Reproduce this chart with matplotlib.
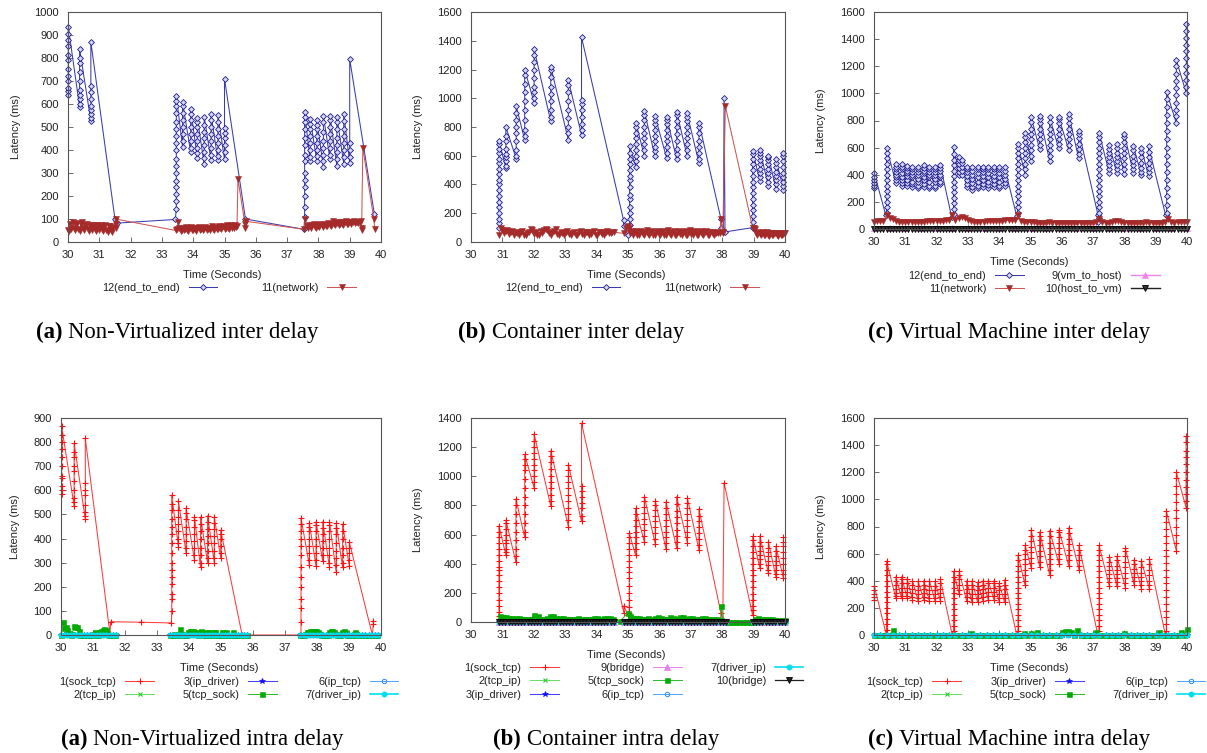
import numpy as np
import matplotlib
matplotlib.use("Agg")
import matplotlib.pyplot as plt
from matplotlib.offsetbox import TextArea, HPacker, AnchoredOffsetbox

plt.rcParams['font.family'] = ['Liberation Sans', 'DejaVu Sans']

# ---------------------------------------------------------------------------
# Data: latency samples (ms) against time (s).
# A piece (t, [v...]) is a burst of packets logged at one instant;
# a piece (t0, t1, [v...]) is a run of samples spread over [t0, t1].
# ---------------------------------------------------------------------------

# (a) Non-virtualized, inter delay
inter_native_e2e = [
    (30.01, [640, 655, 670, 700, 720, 750, 790, 815, 850, 880, 905, 935]),
    (30.37, [588, 600, 620, 640, 660, 700, 740, 780, 800, 840]),
    (30.73, [527, 540, 555, 575, 590, 620, 650, 680, 870]),
    (31.50, [100]),
    (31.55, [82]),
    (33.43, [98]),
    (33.46, [145, 180, 210, 240, 265, 300, 330, 360, 400, 430, 460, 490, 520, 560, 590, 615, 635]),
    (33.66, [415, 440, 470, 500, 530, 560, 590, 608]),
    (33.92, [390, 410, 440, 470, 500, 530, 555, 578]),
    (34.13, [365, 385, 410, 440, 470, 500, 520, 540]),
    (34.35, [340, 365, 390, 420, 450, 480, 510, 545]),
    (34.57, [355, 380, 410, 440, 470, 500, 530, 555]),
    (34.79, [355, 375, 400, 430, 460, 490, 520, 550]),
    (35.00, [360, 390, 420, 450, 475, 495, 710]),
    (35.67, [100]),
    (37.54, [55]),
    (37.56, [110, 150, 200, 240, 270, 300, 350, 380, 420, 450, 490, 520, 545, 565]),
    (37.74, [350, 370, 400, 430, 460, 490, 515, 535]),
    (37.95, [350, 375, 400, 430, 460, 490, 510, 530]),
    (38.16, [325, 350, 380, 410, 440, 480, 520, 548]),
    (38.37, [360, 380, 410, 440, 470, 500, 530, 548]),
    (38.59, [330, 360, 390, 420, 450, 490, 520, 545]),
    (38.81, [340, 370, 400, 430, 460, 490, 525, 555]),
    (39.00, [345, 370, 400, 430, 795]),
    (39.79, [120]),
]
inter_native_network = [
    (30.00, 31.45, [50, 48, 80, 55, 85, 60, 50, 75, 82, 55, 48, 78, 85, 60, 50, 72, 80, 55, 48, 75,
                    70, 50, 72, 55, 48, 75, 70, 50, 72, 55, 48, 70, 72, 50, 45, 70, 68, 50, 45, 65]),
    (31.52, [60, 80, 100]),
    (33.45, 35.40, [50, 55, 85, 60, 48, 52, 62, 50, 55, 65, 52, 48, 60, 66, 52, 50, 62, 55, 48, 60,
                    65, 52, 55, 62, 50, 58, 66, 52, 55, 63, 50, 60, 68, 55, 52, 65, 58, 55, 68, 60,
                    55, 66, 70, 58, 60, 72, 62, 58, 70, 75, 60, 62, 72, 65, 70]),
    (35.43, [275]),
    (35.65, [80]),
    (35.67, [62]),
    (35.69, [90]),
    (37.55, 39.35, [55, 100, 70, 62, 75, 68, 60, 72, 78, 65, 62, 75, 70, 65, 78, 72, 66, 75, 80, 68,
                    70, 82, 75, 70, 80, 92, 78, 72, 82, 88, 75, 78, 85, 80, 76, 86, 90, 80, 78, 88,
                    85, 80, 88, 90, 82, 85, 88, 84, 86, 90]),
    (39.38, [60, 50]),
    (39.42, [410]),
    (39.77, [100]),
    (39.80, [55]),
]

# (b) Container, inter delay
inter_container_e2e = [
    (30.89, [100, 130, 160, 200, 240, 280, 320, 360, 400, 430, 470, 510, 550, 580, 620, 650, 680, 705]),
    (31.11, [515, 530, 560, 590, 610, 650, 700, 740, 800]),
    (31.44, [580, 600, 640, 700, 760, 800, 850, 900, 945]),
    (31.71, [710, 740, 780, 850, 920, 980, 1040, 1100, 1160, 1200]),
    (32.01, [970, 1000, 1040, 1080, 1140, 1200, 1250, 1300, 1340]),
    (32.54, [840, 870, 920, 980, 1030, 1080, 1150, 1200, 1220]),
    (33.10, [710, 760, 800, 860, 920, 980, 1040, 1090, 1125]),
    (33.52, [745, 780, 820, 870, 920, 960, 985, 1425]),
    (34.86, [150, 110]),
    (35.00, [50]),
    (35.05, [80, 120, 160, 200, 240, 300, 330, 380, 430, 460, 500, 540, 580, 620, 670]),
    (35.25, [520, 560, 600, 640, 680, 720, 760, 800, 830]),
    (35.52, [600, 640, 680, 720, 760, 800, 850, 880, 910]),
    (35.86, [595, 630, 660, 700, 740, 780, 820, 850, 875]),
    (36.23, [585, 620, 660, 700, 740, 780, 820, 850, 870]),
    (36.55, [575, 610, 650, 700, 750, 800, 840, 880, 905]),
    (36.88, [600, 640, 680, 720, 760, 800, 840, 870, 895]),
    (37.26, [550, 580, 620, 660, 700, 760, 800, 830]),
    (37.96, [160, 100]),
    (38.04, [70]),
    (38.06, [1005]),
    (38.09, [70]),
    (38.97, [100, 140, 180, 220, 260, 300, 340, 380, 420, 460, 500, 540, 580, 610, 630]),
    (39.20, [425, 450, 480, 510, 540, 570, 600, 620, 640]),
    (39.47, [390, 420, 450, 480, 510, 540, 570, 590, 600]),
    (39.71, [370, 400, 430, 460, 490, 520, 550, 575]),
    (39.95, [365, 390, 420, 450, 480, 520, 560, 600, 620]),
]
inter_container_network = [
    (30.89, 34.55, [50, 95, 85, 60, 75, 80, 55, 70, 78, 50, 72, 60, 50, 68, 75, 52, 48, 65, 70, 90,
                    85, 55, 70, 50, 48, 75, 60, 80, 90, 82, 60, 50, 72, 78, 90, 55, 48, 70, 65, 50,
                    72, 78, 55, 48, 65, 72, 52, 50, 70, 75, 55, 48, 70, 72, 50, 55, 70, 75, 52, 48,
                    68, 72, 55, 50, 70, 75, 60, 65, 70, 68]),
    (34.87, [60]),
    (34.95, 37.92, [100, 110, 95, 60, 75, 50, 70, 78, 52, 48, 72, 75, 55, 50, 70, 80, 55, 48, 72, 75,
                    52, 50, 70, 78, 55, 48, 72, 76, 52, 50, 70, 80, 55, 48, 72, 75, 52, 50, 70, 78,
                    55, 48, 72, 75, 52, 50, 70, 80, 55, 48, 72, 75, 52, 50, 70, 78, 55, 48, 72, 75,
                    52, 50, 70, 72, 55, 48, 65, 70, 60, 65]),
    (37.96, [160]),
    (38.02, [70, 60]),
    (38.10, [945]),
    (38.97, [100]),
    (39.02, 40.00, [95, 90, 60, 50, 70, 55, 48, 65, 70, 50, 48, 62, 68, 50, 45, 60, 65, 50, 48, 62,
                    65, 50, 45, 60, 62, 50, 48, 58, 60, 65]),
]

# (c) Virtual machine, inter delay
inter_vm_e2e = [
    (30.01, [300, 320, 340, 360, 380, 410]),
    (30.38, [100]),
    (30.40, [120, 160, 200, 240, 280, 320, 360, 400, 440, 480, 520, 560, 600]),
    (30.70, [340, 360, 380, 400, 420, 440, 460, 480]),
    (30.88, [320, 340, 360, 380, 410, 440, 460, 480]),
    (31.06, [320, 340, 360, 390, 410, 430, 450, 465]),
    (31.23, [310, 330, 350, 380, 400, 420, 440, 455]),
    (31.41, [300, 320, 350, 370, 400, 420, 440, 460]),
    (31.59, [310, 330, 360, 380, 410, 430, 450, 470]),
    (31.77, [300, 320, 350, 380, 400, 420, 440, 460]),
    (31.95, [300, 320, 350, 370, 400, 420, 440, 455]),
    (32.12, [330, 350, 380, 400, 430, 450, 470]),
    (32.48, [90]),
    (32.54, [110, 150, 190, 230, 270, 310, 350, 390, 430, 470, 510, 550, 605]),
    (32.70, [400, 420, 450, 480, 510, 530]),
    (32.80, [400, 430, 460, 490, 510]),
    (32.96, [310, 330, 360, 390, 420, 440, 460]),
    (33.13, [290, 310, 340, 370, 400, 430, 460]),
    (33.31, [300, 320, 350, 380, 410, 440, 460]),
    (33.48, [310, 330, 360, 390, 420, 440, 460]),
    (33.65, [305, 325, 350, 380, 410, 440, 460]),
    (33.83, [310, 330, 360, 390, 420, 440, 455]),
    (34.00, [300, 320, 350, 380, 410, 440, 460]),
    (34.17, [320, 340, 370, 400, 430, 455]),
    (34.56, [95]),
    (34.59, [120, 160, 200, 240, 280, 320, 360, 400, 440, 480, 520, 560, 600, 630]),
    (34.83, [400, 440, 480, 520, 560, 600, 640, 680, 710]),
    (35.02, [500, 540, 580, 620, 660, 700, 740, 790, 825]),
    (35.29, [590, 620, 660, 700, 740, 780, 810, 835]),
    (35.61, [505, 540, 580, 620, 660, 700, 740, 790, 825]),
    (35.90, [595, 630, 660, 700, 740, 780, 810, 825]),
    (36.22, [585, 620, 660, 700, 740, 780, 820, 845]),
    (36.54, [520, 550, 590, 630, 670, 700, 720]),
    (37.16, [100, 50]),
    (37.19, [80, 120, 160, 200, 240, 280, 320, 360, 400, 440, 480, 520, 560, 600, 640, 680, 710]),
    (37.52, [410, 440, 470, 500, 530, 560, 590, 620]),
    (37.76, [410, 440, 470, 500, 530, 560, 600, 630]),
    (38.00, [405, 440, 480, 520, 560, 600, 640, 680, 700]),
    (38.29, [410, 440, 470, 500, 540, 580, 610]),
    (38.54, [395, 420, 450, 490, 530, 570, 600]),
    (38.77, [390, 420, 450, 490, 530, 570, 610]),
    (39.32, [100]),
    (39.35, [120, 180, 240, 300, 360, 420, 480, 540, 600, 660, 720, 780, 840, 900, 960, 1010]),
    (39.66, [780, 830, 880, 930, 990, 1040, 1090, 1140, 1200, 1245]),
    (39.98, [1000, 1050, 1100, 1150, 1200, 1260, 1310, 1360, 1410, 1460, 1510]),
]
inter_vm_network = [
    (30.00, 40.00, [55, 56, 57, 58, 100, 82, 72, 56, 50, 50,
                    50, 51, 52, 52, 53, 54, 55, 56, 57, 58,
                    60, 61, 62, 63, 64, 100, 70, 84, 88, 80,
                    68, 58, 52, 52, 53, 55, 56, 57, 58, 60,
                    61, 62, 63, 64, 66, 68, 100, 62, 55, 50,
                    48, 48, 47, 47, 47, 46, 48, 47, 47, 46,
                    46, 46, 47, 46, 46, 46, 46, 46, 47, 46,
                    47, 48, 72, 50, 47, 47, 50, 62, 60, 52,
                    47, 47, 47, 46, 46, 46, 47, 48, 47, 47,
                    47, 47, 47, 50, 76, 50, 47, 48, 48, 49,
                    50]),
]
inter_vm_vm_to_host = [
    (30.00, 40.00, [8, 8, 8, 8, 8, 8, 8, 8, 8, 8, 8, 8, 8, 8, 8, 8, 8, 8, 8, 8, 8]),
]
inter_vm_host_to_vm = [
    (30.00, 40.00, [0, 0, 1, 0, 0, 0, 1, 0, 0, 0,
                    0, 0, 0, 1, 0, 0, 0, 0, 1, 0,
                    0, 0, 0, 0, 0, 1, 0, 0, 0, 0,
                    1, 0, 0, 0, 0, 0, 0, 1, 0, 0,
                    0, 0, 1, 0, 0, 0, 0, 0, 0, 1,
                    0, 0, 0, 0, 1, 0, 0, 0, 0, 0,
                    0, 1, 0, 0, 0, 0, 0, 1, 0, 0,
                    0, 0, 0, 0, 1, 0, 0, 0, 0, 0,
                    1, 0, 0, 0, 0, 0, 1, 0, 0, 0,
                    0, 0, 0, 1, 0, 0, 0, 0, 1, 0,
                    0]),
]

# (a) Non-virtualized, intra delay
intra_native_sock_tcp = [
    (30.02, [585, 600, 620, 650, 660, 700, 740, 770, 800, 830, 865]),
    (30.41, [535, 550, 570, 600, 640, 680, 700, 740, 760, 795]),
    (30.76, [480, 495, 510, 540, 580, 600, 630, 815]),
    (31.53, [5]),
    (31.55, [55]),
    (32.50, [53]),
    (33.45, [50]),
    (33.46, [100, 150, 170, 210, 240, 270, 300, 340, 380, 420, 450, 480, 520, 545, 580]),
    (33.67, [365, 380, 400, 430, 460, 490, 520, 555]),
    (33.91, [340, 360, 390, 420, 450, 480, 505, 525]),
    (34.17, [310, 330, 360, 390, 420, 450, 475, 490]),
    (34.36, [280, 300, 330, 360, 400, 430, 460, 490]),
    (34.58, [300, 320, 350, 380, 410, 440, 470, 495]),
    (34.79, [300, 320, 350, 380, 410, 440, 465, 490]),
    (34.99, [320, 340, 370, 400, 420, 435]),
    (35.66, [0]),
    (37.50, [0, 55, 110, 150, 200, 240, 280, 330, 370, 400, 430, 460, 485]),
    (37.76, [290, 310, 340, 370, 400, 430, 450, 465]),
    (37.97, [285, 310, 340, 370, 400, 430, 455, 470]),
    (38.18, [305, 330, 360, 390, 420, 445, 470]),
    (38.39, [280, 300, 330, 360, 400, 430, 455, 470]),
    (38.60, [260, 290, 320, 350, 380, 420, 445, 465]),
    (38.80, [280, 300, 330, 360, 400, 430, 460]),
    (39.01, [285, 310, 340, 360, 385]),
    (39.73, [0]),
    (39.76, [45, 60]),
]
intra_native_tcp_sock = [
    (30.00, 31.70, [0, 52, 30, 35, 22, 8, 0, 3, 36, 35, 33, 15, 2, 0, 0, 2, 0, 0, 0, 0,
                    3, 12, 0, 2, 14, 16, 22, 26, 20, 3, 0, 2, 0, 0, 0]),
    (33.42, 35.82, [0, 0, 3, 0, 2, 0, 25, 5, 0, 2, 0, 12, 15, 16, 15, 14, 3, 0, 14, 15,
                    14, 2, 0, 14, 13, 0, 2, 14, 12, 0, 2, 0, 13, 0, 2, 13, 0, 2, 0, 12,
                    0, 2, 0, 0, 2, 0, 0, 0, 0]),
    (37.48, 39.88, [0, 2, 0, 5, 12, 14, 15, 16, 15, 17, 16, 14, 3, 0, 2, 0, 2, 0, 14, 15,
                    15, 14, 3, 0, 2, 0, 14, 15, 14, 2, 0, 2, 0, 0, 14, 3, 0, 2, 0, 0,
                    2, 0, 0, 0, 2, 0, 0, 0, 0]),
]
# per-hop kernel delays (tcp_ip, ip_driver, ip_tcp, driver_ip) sit at ~0 ms
intra_native_hops = [
    (30.00, 31.72, [0, 0, 1, 0, 0, 0, 1, 0, 0, 0, 0, 1, 0, 0, 0, 0, 1, 0]),
    (33.42, 35.82, [0, 0, 0, 1, 0, 0, 0, 0, 1, 0, 0, 0, 0, 0, 1, 0, 0, 0, 0, 1, 0, 0, 0, 0, 0]),
    (37.48, 39.92, [0, 1, 0, 0, 0, 0, 1, 0, 0, 0, 0, 0, 1, 0, 0, 0, 0, 1, 0, 0, 0, 0, 1, 0, 0]),
]

# (b) Container, intra delay
intra_container_sock_tcp = [
    (30.89, [40, 70, 110, 150, 200, 240, 280, 320, 360, 380, 420, 460, 500, 540, 580, 620, 660]),
    (31.11, [460, 480, 500, 540, 560, 600, 640, 680, 700]),
    (31.43, [410, 450, 500, 560, 620, 680, 740, 800, 845]),
    (31.71, [580, 620, 680, 740, 800, 860, 920, 980, 1040, 1080, 1120, 1150]),
    (32.01, [920, 960, 1000, 1040, 1080, 1120, 1160, 1200, 1240, 1290]),
    (32.54, [795, 830, 870, 920, 960, 1000, 1050, 1100, 1140, 1175]),
    (33.10, [655, 700, 740, 780, 830, 870, 920, 960, 1000, 1040, 1080]),
    (33.52, [690, 730, 780, 820, 860, 900, 935, 1365]),
    (34.87, [60, 110]),
    (34.99, [50]),
    (35.04, [60, 100, 150, 200, 250, 300, 340, 380, 420, 460, 500, 540, 580, 610]),
    (35.24, [460, 500, 540, 580, 620, 660, 700, 740, 780]),
    (35.52, [550, 590, 630, 670, 710, 750, 790, 830, 860]),
    (35.87, [535, 570, 610, 650, 690, 730, 770, 800, 830]),
    (36.21, [500, 540, 580, 620, 660, 700, 740, 780, 825]),
    (36.55, [505, 550, 590, 630, 680, 720, 760, 810, 860]),
    (36.89, [545, 580, 620, 660, 700, 740, 780, 820, 850]),
    (37.26, [495, 530, 570, 610, 650, 690, 730, 775]),
    (37.96, [60]),
    (38.02, [5]),
    (38.06, [955]),
    (38.97, [45, 80, 110, 150, 190, 240, 280, 320, 360, 400, 440, 480, 520, 560, 587]),
    (39.20, [370, 400, 430, 460, 490, 520, 550, 590]),
    (39.47, [335, 360, 390, 420, 450, 480, 510, 550]),
    (39.71, [310, 330, 360, 390, 420, 450, 490, 520]),
    (39.95, [300, 330, 360, 400, 440, 480, 520, 550, 580]),
]
intra_container_tcp_sock = [
    (30.92, 34.52, [40, 35, 32, 30, 28, 26, 25, 24, 22, 20, 22, 45, 42, 20, 18, 25, 40, 38, 30, 28,
                    25, 24, 22, 20, 22, 25, 22, 20, 20, 22, 28, 25, 22, 30, 28, 25, 20]),
    (34.75, [5]),
    (35.00, [65]),
    (35.05, 37.95, [40, 30, 28, 25, 22, 20, 25, 22, 30, 35, 25, 22, 20, 32, 30, 22, 35, 32, 20, 25,
                    30, 22, 20, 28, 25, 22, 20, 18, 20, 15]),
    (37.97, [112]),
    (38.05, [10]),
    (38.15, 38.95, [3, 2, 2, 1, 1, 0, 0, 0, 0]),
    (39.05, 40.00, [20, 25, 22, 20, 18, 18, 16, 15, 15, 14]),
]
intra_container_hops = [
    (30.89, 34.55, [0, 0, 1, 0, 0, 0, 0, 1, 0, 0, 0, 0, 0, 1, 0, 0, 0, 0, 1, 0,
                    0, 0, 0, 0, 1, 0, 0, 0, 0, 0, 1, 0, 0, 0, 0, 1, 0]),
    (34.87, 38.12, [0, 0, 0, 1, 0, 0, 0, 0, 1, 0, 0, 0, 0, 0, 1, 0, 0, 0, 0, 1,
                    0, 0, 0, 0, 0, 1, 0, 0, 0, 0, 1, 0, 0]),
    (38.97, 40.00, [0, 0, 1, 0, 0, 0, 0, 1, 0, 0, 0]),
]

# (c) Virtual machine, intra delay
intra_vm_sock_tcp = [
    (30.01, [255, 280, 300, 330, 360]),
    (30.38, [15]),
    (30.40, [40, 80, 120, 160, 200, 240, 280, 320, 360, 400, 440, 480, 520, 545]),
    (30.70, [270, 290, 310, 340, 370, 400, 430]),
    (30.88, [270, 290, 320, 350, 380, 410, 430]),
    (31.06, [270, 290, 320, 350, 380, 415]),
    (31.23, [260, 280, 310, 340, 370, 400]),
    (31.41, [250, 270, 300, 330, 360, 395]),
    (31.59, [260, 280, 310, 340, 370, 400]),
    (31.77, [250, 270, 300, 330, 360, 400]),
    (31.95, [250, 270, 300, 330, 360, 395]),
    (32.12, [250, 280, 310, 340, 380, 410]),
    (32.50, [0]),
    (32.54, [30, 70, 110, 150, 190, 230, 270, 310, 350, 390, 430, 470]),
    (32.72, [300, 330, 370, 410, 440, 470]),
    (32.96, [250, 280, 310, 340, 370, 400]),
    (33.13, [240, 270, 300, 340, 370, 400]),
    (33.31, [240, 270, 300, 330, 360, 390]),
    (33.48, [250, 280, 310, 340, 370, 400]),
    (33.65, [260, 290, 320, 350, 380, 400]),
    (33.83, [260, 290, 320, 350, 380, 400]),
    (34.00, [240, 270, 300, 330, 360, 380]),
    (34.17, [240, 270, 300, 340, 370, 405]),
    (34.56, [0]),
    (34.60, [30, 70, 110, 150, 190, 230, 270, 310, 350, 390, 430, 470, 510, 550, 590]),
    (34.83, [365, 400, 440, 480, 520, 560, 600, 630, 660]),
    (35.02, [495, 530, 570, 610, 650, 690, 730, 775]),
    (35.29, [505, 540, 580, 620, 660, 700, 730, 760]),
    (35.61, [445, 480, 520, 560, 600, 640, 680, 730, 770]),
    (35.91, [525, 560, 600, 640, 680, 720, 760, 775]),
    (36.22, [510, 550, 590, 630, 670, 710, 750, 790]),
    (36.55, [480, 510, 550, 590, 630, 660]),
    (37.15, [0]),
    (37.19, [30, 70, 110, 150, 190, 230, 270, 310, 350, 390, 430, 470, 510, 550, 590, 630, 660]),
    (37.52, [360, 390, 420, 450, 480, 510, 540, 575]),
    (37.76, [360, 390, 420, 450, 480, 510, 550, 580]),
    (38.03, [350, 380, 420, 460, 500, 540, 580, 620, 640]),
    (38.31, [370, 400, 430, 460, 490, 520, 555]),
    (38.54, [340, 370, 400, 430, 460, 500, 545]),
    (38.80, [340, 370, 400, 440, 480, 520, 560]),
    (39.31, [0]),
    (39.34, [30, 80, 130, 180, 230, 280, 330, 380, 430, 480, 530, 580, 630, 680, 730, 780, 830, 880, 915]),
    (39.66, [620, 680, 740, 800, 860, 920, 980, 1040, 1100, 1160, 1200]),
    (39.97, [940, 990, 1040, 1090, 1140, 1200, 1260, 1310, 1360, 1420, 1465]),
]
intra_vm_tcp_sock = [
    (30.00, 40.00, [0, 0, 0, 0, 0, 0, 34, 0, 0, 0,
                    0, 0, 0, 0, 0, 0, 0, 0, 0, 0,
                    0, 0, 0, 0, 0, 0, 0, 0, 0, 0,
                    0, 16, 0, 0, 0, 0, 0, 0, 0, 0,
                    0, 0, 0, 0, 0, 0, 0, 0, 12, 0,
                    12, 0, 22, 0, 0, 0, 0, 0, 0, 0,
                    24, 28, 30, 24, 0, 34, 0, 0, 0, 0,
                    0, 25, 0, 0, 0, 0, 0, 0, 0, 0,
                    12, 0, 0, 0, 0, 0, 0, 0, 0, 0,
                    0, 20, 0, 0, 0, 0, 0, 0, 22, 0,
                    44]),
]
intra_vm_hops = [
    (30.00, 40.00, [0, 0, 1, 0, 0, 0, 0, 1, 0, 0, 0, 0, 0, 1, 0, 0, 0, 0, 1, 0,
                    0, 0, 0, 0, 1, 0, 0, 0, 0, 0, 1, 0, 0, 0, 0, 1, 0, 0, 0, 0,
                    0, 1, 0, 0, 0, 0, 1, 0, 0, 0, 0]),
]

# ---------------------------------------------------------------------------
# Series styles (gnuplot-like look)
# ---------------------------------------------------------------------------
STYLE = {
    'end_to_end': dict(color='#3b3bb0', lw=0.75, marker='D', ms=3.0, mfc='#d8d8ff', mec='#1a1a8a', mew=0.6),
    'network': dict(color='#cc5555', lw=0.75, marker='v', ms=4.3, mfc='#a52a2a', mec='#a52a2a', mew=0.4),
    'vm_to_host': dict(color='#ee82ee', lw=1.0, marker='^', ms=4.0, mfc='#ee82ee', mec='#ee82ee', mew=0.4),
    'host_to_vm': dict(color='#222222', lw=1.0, marker='v', ms=4.0, mfc='#333333', mec='#000000', mew=0.6),
    'sock_tcp': dict(color='#ff3b3b', lw=0.75, marker='+', ms=5.0, mec='#ff1010', mew=0.8),
    'tcp_ip': dict(color='#66e066', lw=0.75, marker='x', ms=3.5, mec='#33cc33', mew=0.8),
    'ip_driver': dict(color='#4444ff', lw=0.75, marker='*', ms=4.0, mfc='#1010ff', mec='#1010ff', mew=0.5),
    'tcp_sock': dict(color='#33bb33', lw=0.75, marker='s', ms=3.6, mfc='#00aa00', mec='#00aa00', mew=0.4),
    'ip_tcp': dict(color='#55a5ff', lw=0.75, marker='o', ms=3.2, mfc='none', mec='#2a8cff', mew=0.7),
    'driver_ip': dict(color='#00e0f0', lw=1.2, marker='o', ms=3.8, mfc='#00dcec', mec='#00dcec', mew=0.4),
    'bridge_in': dict(color='#ee82ee', lw=0.75, marker='^', ms=3.8, mfc='#ee82ee', mec='#dd66dd', mew=0.4),
    'bridge_out': dict(color='#222222', lw=0.9, marker='v', ms=3.8, mfc='#222222', mec='#000000', mew=0.6),
}

TXT = '#222222'
W, H = 1207, 753

fig = plt.figure(figsize=(W / 100, H / 100), dpi=100)
fig.patch.set_facecolor('white')


def fx(px):
    return px / W


def fy(py):
    return 1 - py / H


def flatten(pieces, gaps=False):
    xs, ys = [], []
    for piece in pieces:
        if len(piece) == 2:
            t, vals = piece
            ts = [t] * len(vals)
        else:
            t0, t1, vals = piece
            ts = list(np.linspace(t0, t1, len(vals)))
        xs.extend(ts)
        ys.extend(vals)
        if gaps:
            xs.append(np.nan)
            ys.append(np.nan)
    return np.array(xs, float), np.array(ys, float)


def make_axes(l, t, r, b, ymax, ystep):
    ax = fig.add_axes([fx(l), fy(b), (r - l) / W, (b - t) / H])
    ax.set_xlim(30, 40)
    ax.set_ylim(0, ymax)
    ax.set_xticks(range(30, 41))
    ax.set_yticks(np.arange(0, ymax + 1, ystep))
    ax.tick_params(direction='in', length=3.5, width=0.6, color='#555555',
                   labelsize=8, labelcolor=TXT, top=False, right=False)
    ax.tick_params(axis='x', pad=5.5)
    ax.tick_params(axis='y', pad=6.5)
    for s in ax.spines.values():
        s.set_color('#555555')
        s.set_linewidth(0.8)
    return ax


def draw(ax, pieces, style, label, gaps=False):
    x, y = flatten(pieces, gaps)
    # markers sitting on the zero line are drawn in full, as gnuplot does
    line, = ax.plot(x, y, label=label, clip_on=False, **STYLE[style])
    return line


def labels(ax, ylab_x, ylab_y, xlab_x, xlab_y):
    fig.text(fx(ylab_x), fy(ylab_y), 'Latency (ms)', rotation=90, ha='center', va='center',
             fontsize=8, color=TXT)
    fig.text(fx(xlab_x), fy(xlab_y), 'Time (Seconds)', ha='center', va='center',
             fontsize=8, color=TXT)


def legend(ax, handles, cx, top, ncol, colspace):
    ax.legend(handles=handles, loc='upper center', bbox_to_anchor=(fx(cx), fy(top)),
              bbox_transform=fig.transFigure, ncol=ncol, markerfirst=False, frameon=False,
              fontsize=7.9, handlelength=2.6, handletextpad=0.8, columnspacing=colspace,
              labelspacing=0.3, borderpad=0, borderaxespad=0, numpoints=1,
              labelcolor=TXT)


def caption(cx, cy, tag, text):
    box = HPacker(children=[
        TextArea(tag, textprops=dict(family='Liberation Serif', weight='bold', size=16.4, color='black')),
        TextArea(text, textprops=dict(family='Liberation Serif', size=16.4, color='black')),
    ], align='baseline', pad=0, sep=4)
    ab = AnchoredOffsetbox(loc='center', child=box, pad=0, borderpad=0, frameon=False,
                           bbox_to_anchor=(fx(cx), fy(cy)), bbox_transform=fig.transFigure)
    fig.add_artist(ab)


# ---------------- top row: inter delay ----------------
ax = make_axes(68, 12, 381, 242, 1000, 100)
h1 = draw(ax, inter_native_e2e, 'end_to_end', '12(end_to_end)')
h2 = draw(ax, inter_native_network, 'network', '11(network)')
labels(ax, 16, 127, 222, 275)
legend(ax, [h1, h2], 229, 283, 2, 4.0)
caption(177, 332, '(a)', 'Non-Virtualized inter delay')

ax = make_axes(471, 12, 785, 242, 1600, 200)
h1 = draw(ax, inter_container_e2e, 'end_to_end', '12(end_to_end)')
h2 = draw(ax, inter_container_network, 'network', '11(network)')
labels(ax, 418, 127, 626, 275)
legend(ax, [h1, h2], 632, 283, 2, 4.0)
caption(571, 332, '(b)', 'Container inter delay')

ax = make_axes(874, 12, 1187, 229, 1600, 200)
h1 = draw(ax, inter_vm_e2e, 'end_to_end', '12(end_to_end)')
h2 = draw(ax, inter_vm_network, 'network', '11(network)')
h3 = draw(ax, inter_vm_vm_to_host, 'vm_to_host', '9(vm_to_host)')
h4 = draw(ax, inter_vm_host_to_vm, 'host_to_vm', '10(host_to_vm)')
labels(ax, 821, 121, 1029, 262)
legend(ax, [h1, h2, h3, h4], 1034, 271, 2, 2.0)
caption(1009, 332, '(c)', 'Virtual Machine inter delay')

# ---------------- bottom row: intra delay ----------------
ax = make_axes(61, 418, 381, 635, 900, 100)
h1 = draw(ax, intra_native_sock_tcp, 'sock_tcp', '1(sock_tcp)')
h2 = draw(ax, intra_native_hops, 'tcp_ip', '2(tcp_ip)', gaps=True)
h3 = draw(ax, intra_native_hops, 'ip_driver', '3(ip_driver)', gaps=True)
h5 = draw(ax, intra_native_tcp_sock, 'tcp_sock', '5(tcp_sock)', gaps=True)
h6 = draw(ax, intra_native_hops, 'ip_tcp', '6(ip_tcp)', gaps=True)
h7 = draw(ax, intra_native_hops, 'driver_ip', '7(driver_ip)', gaps=True)
labels(ax, 15, 527, 219, 668)
legend(ax, [h1, h2, h3, h5, h6, h7], 229, 677, 3, 2.6)
caption(202, 739, '(a)', 'Non-Virtualized intra delay')

ax = make_axes(471, 418, 785, 622, 1400, 200)
h1 = draw(ax, intra_container_sock_tcp, 'sock_tcp', '1(sock_tcp)')
h2 = draw(ax, intra_container_hops, 'tcp_ip', '2(tcp_ip)', gaps=True)
h3 = draw(ax, intra_container_hops, 'ip_driver', '3(ip_driver)', gaps=True)
h9 = draw(ax, intra_container_hops, 'bridge_in', '9(bridge)', gaps=True)
h5 = draw(ax, intra_container_tcp_sock, 'tcp_sock', '5(tcp_sock)')
h6 = draw(ax, intra_container_hops, 'ip_tcp', '6(ip_tcp)', gaps=True)
h7 = draw(ax, intra_container_hops, 'driver_ip', '7(driver_ip)', gaps=True)
h10 = draw(ax, intra_container_hops, 'bridge_out', '10(bridge)', gaps=True)
labels(ax, 418, 520, 626, 655)
legend(ax, [h1, h2, h3, h9, h5, h6, h7, h10], 634, 663, 3, 2.6)
caption(606, 739, '(b)', 'Container intra delay')

ax = make_axes(874, 418, 1187, 635, 1600, 200)
h1 = draw(ax, intra_vm_sock_tcp, 'sock_tcp', '1(sock_tcp)')
h2 = draw(ax, intra_vm_hops, 'tcp_ip', '2(tcp_ip)')
h3 = draw(ax, intra_vm_hops, 'ip_driver', '3(ip_driver)')
h5 = draw(ax, intra_vm_tcp_sock, 'tcp_sock', '5(tcp_sock)')
h6 = draw(ax, intra_vm_hops, 'ip_tcp', '6(ip_tcp)')
h7 = draw(ax, intra_vm_hops, 'driver_ip', '7(driver_ip)')
labels(ax, 821, 527, 1029, 668)
legend(ax, [h1, h2, h3, h5, h6, h7], 1036, 677, 3, 2.6)
caption(1009, 739, '(c)', 'Virtual Machine intra delay')

fig.savefig('out.png', dpi=100)
